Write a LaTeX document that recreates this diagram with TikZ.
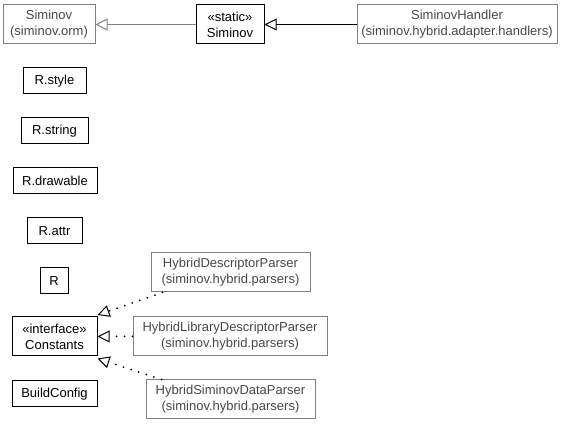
\documentclass[tikz,border=0pt]{standalone}
\usepackage{fontspec}
\setmainfont{Liberation Sans}
\usetikzlibrary{arrows.meta}
\definecolor{extline}{RGB}{128,128,128}
\definecolor{exttext}{RGB}{72,72,72}
\begin{document}
\begin{tikzpicture}[x=1pt,y=-1pt,
  cls/.style={draw=black, line width=1pt, fill=white, inner sep=0pt, align=center,
    font=\fontsize{13}{16}\selectfont, text=black},
  ext/.style={cls, draw=extline, text=exttext},
  one/.style={minimum height=26pt},
  two/.style={minimum height=39pt},
  gen/.style={-{Triangle[open,length=12pt,width=12pt,fill=white]}, line width=1pt},
  realize/.style={-{Triangle[open,length=12pt,width=12pt,fill=white,line width=1pt]},
    line width=2pt, line cap=round, dash pattern=on 0pt off 8pt}
]
\useasboundingbox (0,0) rectangle (576,427);
% top row
\node[ext, two, minimum width=92pt] (orm) at (49,24.5) {Siminov\\(siminov.orm)};
\node[cls, two, minimum width=68pt] (st) at (230,24.5) {«static»\\Siminov};
\node[ext, two, minimum width=200pt] (hnd) at (457,24.5) {SiminovHandler\\(siminov.hybrid.adapter.handlers)};
% left column
\node[cls, one, minimum width=63pt] (rstyle) at (54.5,81) {R.style};
\node[cls, one, minimum width=67pt] (rstring) at (54.5,131) {R.string};
\node[cls, one, minimum width=84pt] (rdraw) at (55,181) {R.drawable};
\node[cls, one, minimum width=55pt] (rattr) at (54.5,231) {R.attr};
\node[cls, one, minimum width=28pt] (r) at (54,281) {R};
\node[cls, two, minimum width=85pt] (con) at (54.5,336.5) {«interface»\\Constants};
\node[cls, one, minimum width=85pt] (bc) at (54.5,394) {BuildConfig};
% parsers
\node[ext, two, minimum width=159pt] (hdp) at (230.5,272.5) {HybridDescriptorParser\\(siminov.hybrid.parsers)};
\node[ext, two, minimum width=194pt] (hldp) at (230,336.5) {HybridLibraryDescriptorParser\\(siminov.hybrid.parsers)};
\node[ext, two, minimum width=169pt] (hsdp) at (230.5,399.5) {HybridSiminovDataParser\\(siminov.hybrid.parsers)};
% generalizations
\draw[gen, draw=extline] (st.west) -- (orm.east);
\draw[gen] (hnd.west) -- (st.east);
% realizations
\draw[realize] ([xshift=12pt]hdp.south west) -- ([yshift=1.5pt]con.north east);
\draw[realize] (hldp.west) -- (con.east);
\draw[realize] ([xshift=16pt]hsdp.north west) -- ([yshift=-2pt]con.south east);
\end{tikzpicture}
\end{document}
